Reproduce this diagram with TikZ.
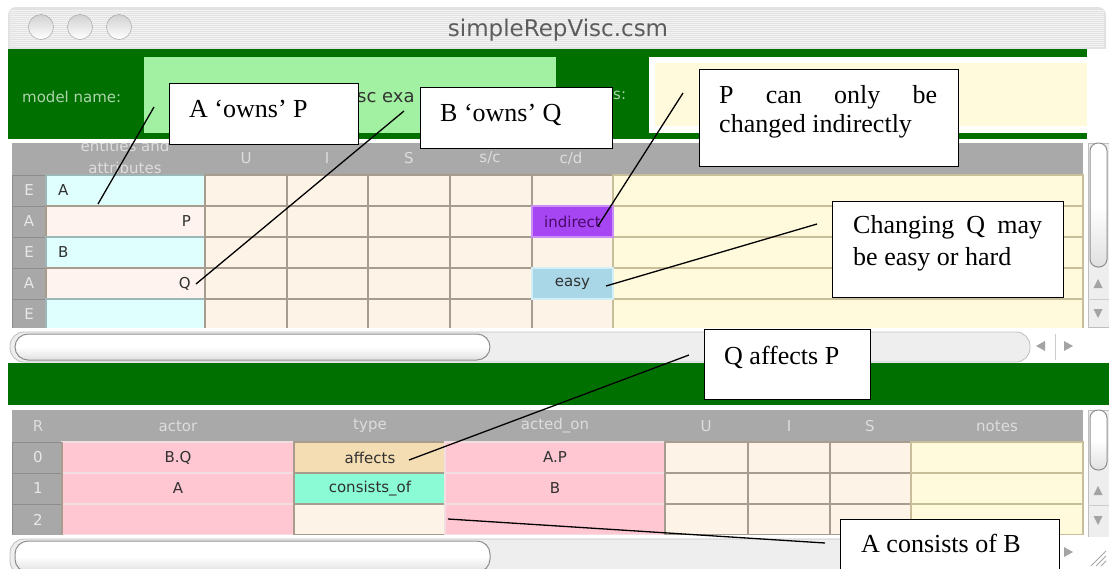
\documentclass[tikz,border=0pt]{standalone}
\usepackage{fontspec}
\setmainfont{Liberation Serif}
\newfontfamily\uifont{DejaVu Sans}
\usetikzlibrary{calc}
\definecolor{titlegray}{HTML}{E2E2E2}
\definecolor{titletext}{HTML}{5C5C5C}
\definecolor{dkgreen}{HTML}{007100}
\definecolor{fieldgreen}{HTML}{A2F0A2}
\definecolor{modellab}{HTML}{AED4AE}
\definecolor{noteyel}{HTML}{FFFADB}
\definecolor{hdrgray}{HTML}{A9A9A9}
\definecolor{hdrtext}{HTML}{DDDDDD}
\definecolor{labgray}{HTML}{A8A8A8}
\definecolor{labline}{HTML}{8C8C8C}
\definecolor{labtext}{HTML}{E8E8E8}
\definecolor{entcyan}{HTML}{DFFEFE}
\definecolor{entline}{HTML}{9DB6B6}
\definecolor{attrpink}{HTML}{FFF3EF}
\definecolor{peach}{HTML}{FDF3E6}
\definecolor{cellline}{HTML}{A89C8E}
\definecolor{notelines}{HTML}{C9BE9A}
\definecolor{indpurple}{HTML}{A645F2}
\definecolor{indtext}{HTML}{4A0A6A}
\definecolor{easyblue}{HTML}{AAD7E7}
\definecolor{easyline}{HTML}{D2EEF6}
\definecolor{pinkcell}{HTML}{FFC7D2}
\definecolor{pinkline}{HTML}{F2DDE2}
\definecolor{tancell}{HTML}{F5DDB3}
\definecolor{aquacell}{HTML}{8AFBD5}
\definecolor{celltext}{HTML}{303030}
\definecolor{trackgray}{HTML}{EEEEEE}
\definecolor{thumbline}{HTML}{8E8E8E}
\definecolor{arrowgray}{HTML}{A4A4A4}
\newcommand\calloutfont{\fontsize{26}{29}\selectfont}
\newcommand\uisize{\uifont\fontsize{15}{17}\selectfont}
\begin{document}
\begin{tikzpicture}[x=1pt,y=-1pt,
  callout/.style={draw=black, line width=1.3pt, fill=white, inner sep=0pt, anchor=north west},
  note/.style={font=\calloutfont, inner sep=0pt, anchor=base west, text=black},
  lead/.style={line width=1.3pt, black},
  ui/.style={font=\uisize, text=celltext, inner sep=0pt},
  hdr/.style={ui, text=hdrtext},
  rowlab/.style={ui, text=labtext},
  cellbox/.style={draw=cellline, line width=1.2pt},
  thumb/.style={draw=thumbline, line width=1pt, top color=white, bottom color=black!12, middle color=white},
  track/.style={fill=trackgray, draw=black!25, line width=0.8pt},
  tri/.style={fill=arrowgray}]
\useasboundingbox (0,0) rectangle (1109,568);
\clip (0,0) rectangle (1109,568);
\fill[white] (0,0) rectangle (1109,568);

% ---------- title bar ----------
\fill[titlegray, rounded corners=8pt] (8,7) rectangle (1106,62);
\foreach \yy in {10,12,...,47} \draw[white, line width=0.7pt, opacity=0.6] (10,\yy) -- (1104,\yy);
\draw[black!35] (8,49) -- (1106,49);
\foreach \cx/\nm in {41/c1,80/c2,119/c3}
  \node[circle, minimum size=25pt, inner sep=0pt, draw=black!40, top color=black!18, bottom color=white] (\nm) at (\cx,27) {};
\node[font=\uifont\fontsize{23}{25}\selectfont, text=titletext, inner sep=0pt] (title) at (558,30) {simpleRepVisc.csm};

% ---------- top green panel ----------
\fill[dkgreen] (8,49) rectangle (1087,139);
\fill[white] (1087,49) rectangle (1109,143);
\node[ui, text=modellab, anchor=west] (mlab) at (22,97) {model name:};
\fill[fieldgreen] (144,57) rectangle (556,133);
\node[ui, font=\uifont\fontsize{18}{20}\selectfont, text=black!80, anchor=base west] (mname) at (357,102) {sc exa};
\node[ui, text=modellab, anchor=west] (nlab) at (613,95) {s:};
\fill[white] (649,57) rectangle (1087,133);
\fill[noteyel] (655,63) rectangle (1087,126);

% ---------- top table ----------
\fill[hdrgray] (12,143) rectangle (1083,175);
\begin{scope}
  \clip (46,143) rectangle (205,173);
  \node[hdr] (hent1) at (125,146) {entities and};
  \node[hdr] (hent2) at (125,168) {attributes};
\end{scope}
\node[hdr] (hU) at (246,158) {U};
\node[hdr] (hI) at (327,158) {I};
\node[hdr] (hS) at (409,158) {S};
\node[hdr] (hsc) at (490,158) {s/c};
\node[hdr] (hcd) at (571,158) {c/d};

\foreach \y/\lab/\ef/\el in {175/E/entcyan/entline, 206/A/attrpink/cellline, 237/E/entcyan/entline, 268/A/attrpink/cellline, 299/E/entcyan/entline} {
  \path[fill=labgray, draw=labline, line width=1pt] (12,\y) rectangle (46,\y+31);
  \node[rowlab] (rl\y) at (29,\y+15.5) {\lab};
  \path[fill=\ef, draw=\el, line width=1.2pt] (46,\y) rectangle (205,\y+31);
  \foreach \xa/\xb in {205/287,287/368,368/450,450/532,532/613}
    \path[cellbox, fill=peach] (\xa,\y) rectangle (\xb,\y+31);
  \path[fill=noteyel, draw=notelines, line width=1.2pt] (613,\y) rectangle (1083,\y+31);
}
\path[fill=indpurple, draw=indpurple!60, line width=1.2pt] (532,206) rectangle (613,237);
\path[fill=easyblue, draw=easyline, line width=1.2pt] (532,268) rectangle (613,299);
\node[ui, anchor=west] (eA) at (58,190.5) {A};
\node[ui, anchor=east] (eP) at (191,221.5) {P};
\node[ui, anchor=west] (eB) at (58,252.5) {B};
\node[ui, anchor=east] (eQ) at (191,283.5) {Q};
\node[ui, text=indtext] (cind) at (572.5,221.5) {indirect};
\node[ui] (ceasy) at (572.5,283.5) {easy};

% vertical scrollbar (top)
\path[track] (1088,143) rectangle (1109,327);
\path[thumb, rounded corners=8pt] (1090,143) rectangle (1107,267);
\draw[black!20] (1088,299) -- (1109,299);
\fill[tri] (1098,279) -- (1093.5,288) -- (1102.5,288) -- cycle;
\fill[tri] (1098,318) -- (1093.5,309) -- (1102.5,309) -- cycle;

% horizontal scrollbar (top)
\fill[white] (8,327.5) rectangle (1088,332);
\path[track, rounded corners=14pt] (10,332) rectangle (1030,362);
\path[thumb, rounded corners=13pt] (15,334) rectangle (490,360);
\fill[white] (1031,332) rectangle (1087,362);
\draw[black!20] (1055,334) -- (1055,360);
\fill[tri] (1036,346) -- (1045,341) -- (1045,351) -- cycle;
\fill[tri] (1073,346) -- (1064,341) -- (1064,351) -- cycle;

% ---------- bottom green band ----------
\fill[dkgreen] (8,363) rectangle (1109,405);

% ---------- bottom table ----------
\fill[hdrgray] (12,410) rectangle (1083,442);
\node[hdr] (hR) at (38,426) {R};
\node[hdr] (hactor) at (178,426) {actor};
\node[hdr] (htype) at (370,426) {type};
\node[hdr] (hacted) at (555,426) {acted\_on};
\node[hdr] (hU2) at (706,426) {U};
\node[hdr] (hI2) at (789,426) {I};
\node[hdr] (hS2) at (870,426) {S};
\node[hdr] (hnotes) at (997,426) {notes};

\foreach \y/\lab/\tf in {442/0/tancell, 473/1/aquacell, 504/2/peach} {
  \path[fill=labgray, draw=labline, line width=1pt] (12,\y) rectangle (62,\y+31);
  \node[rowlab] (br\lab) at (38,\y+15.5) {\lab};
  \path[fill=pinkcell, draw=pinkline, line width=1.2pt] (62,\y) rectangle (294,\y+31);
  \path[fill=\tf, draw=cellline, line width=1.2pt] (294,\y) rectangle (445,\y+31);
  \path[fill=pinkcell, draw=pinkline, line width=1.2pt] (445,\y) rectangle (665,\y+31);
  \foreach \xa/\xb in {665/748,748/830,830/911}
    \path[cellbox, fill=peach] (\xa,\y) rectangle (\xb,\y+31);
  \path[fill=noteyel, draw=notelines, line width=1.2pt] (911,\y) rectangle (1083,\y+31);
}
\draw[cellline, line width=1.2pt] (294,442) -- (294,535);
\draw[cellline, line width=1.2pt] (62,442) -- (62,535);
\node[ui] (bBQ) at (178,457.5) {B.Q};
\node[ui] (baff) at (370,457.5) {affects};
\node[ui] (bAP) at (555,457.5) {A.P};
\node[ui] (bA) at (178,488.5) {A};
\node[ui] (bcons) at (370,488.5) {consists\_of};
\node[ui] (bB) at (555,488.5) {B};

% vertical scrollbar (bottom)
\path[track] (1088,410) rectangle (1109,537);
\path[thumb, rounded corners=8pt] (1090,410) rectangle (1107,470);
\draw[black!20] (1088,505) -- (1109,505);
\fill[tri] (1098,486) -- (1093.5,495) -- (1102.5,495) -- cycle;
\fill[tri] (1098,525) -- (1093.5,516) -- (1102.5,516) -- cycle;

% horizontal scrollbar (bottom)
\fill[white] (8,535) rectangle (1088,539);
\path[track, rounded corners=14pt] (10,539) rectangle (1030,575);
\path[thumb, rounded corners=13pt] (15,541) rectangle (490,572);
\fill[white] (1031,539) rectangle (1087,568);
\draw[black!20] (1055,541) -- (1055,568);
\fill[tri] (1073,552) -- (1064,547) -- (1064,557) -- cycle;
\fill[white] (1088,537) rectangle (1109,568);
\foreach \d in {5,10,15} \draw[black!35, line width=0.8pt] (1106-\d,566) -- (1106,566-\d);

% ---------- leader lines ----------
\coordinate (l1a) at (154,107); \coordinate (l1b) at (98,204);
\coordinate (l2a) at (404,111); \coordinate (l2b) at (196,284);
\coordinate (l3a) at (683,93);  \coordinate (l3b) at (598,226);
\coordinate (l4a) at (817,224); \coordinate (l4b) at (606,286);
\coordinate (l5a) at (689,355); \coordinate (l5b) at (409,460);
\coordinate (l6a) at (448,519); \coordinate (l6b) at (825,543);
\draw[lead] (l1a) -- (l1b);
\draw[lead] (l2a) -- (l2b);
\draw[lead] (l3a) -- (l3b);
\draw[lead] (l4a) -- (l4b);
\draw[lead] (l5a) -- (l5b);
\draw[lead] (l6a) -- (l6b);

% ---------- callout boxes ----------
\node[callout, minimum width=189pt, minimum height=61pt] (box1) at (169,83) {};
\node[note] (t1) at (189,117) {A ‘owns’ P};
\node[callout, minimum width=192pt, minimum height=61pt] (box2) at (420,87) {};
\node[note] (t2) at (440,121) {B ‘owns’ Q};
\node[callout, minimum width=259pt, minimum height=97pt] (box3) at (699,69) {};
\node[note] (t3a) at (719,103) {\makebox[218pt][s]{P can only be}};
\node[note] (t3b) at (719,132) {changed indirectly};
\node[callout, minimum width=231pt, minimum height=96pt] (box4) at (832,201) {};
\node[note] (t4a) at (853,233) {\makebox[189pt][s]{Changing Q may}};
\node[note] (t4b) at (853,265) {be easy or hard};
\node[callout, minimum width=166pt, minimum height=70pt] (box5) at (704,329) {};
\node[note] (t5) at (724,364) {Q affects P};
\node[callout, minimum width=219pt, minimum height=70pt] (box6) at (840,519) {};
\node[note] (t6) at (861,552) {A consists of B};
\end{tikzpicture}
\end{document}
